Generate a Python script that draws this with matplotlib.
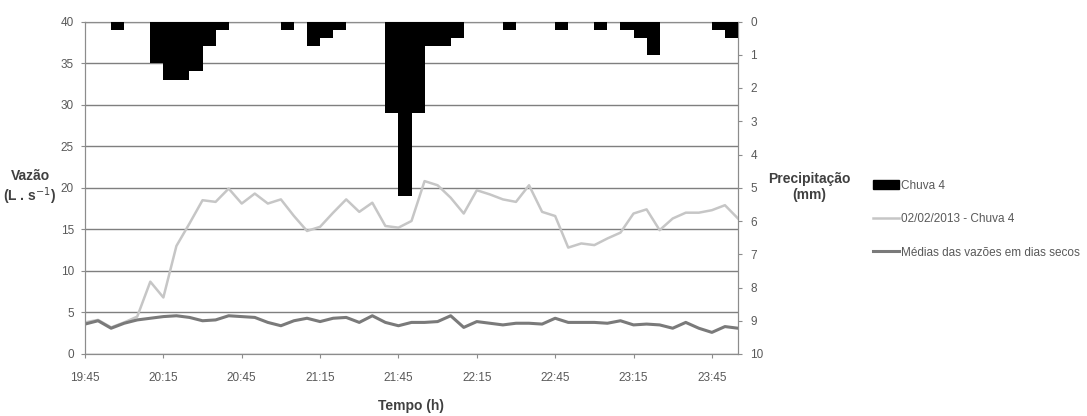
import numpy as np
import matplotlib.pyplot as plt
from matplotlib.patches import Patch
from matplotlib.lines import Line2D

plt.rcParams['font.family'] = ['Liberation Sans Narrow', 'Liberation Sans', 'DejaVu Sans']

# time in minutes after 19:45, 5-min steps
t = np.arange(0, 255, 5)

vazao_chuva = [3.8, 4.1, 3.2, 3.8, 4.5, 8.7, 6.8, 13.0, 15.7, 18.5,
               18.3, 19.9, 18.1, 19.3, 18.1, 18.6, 16.6, 14.8, 15.3, 17.0,
               18.6, 17.1, 18.2, 15.4, 15.2, 16.0, 20.8, 20.3, 18.8, 16.9,
               19.7, 19.2, 18.6, 18.3, 20.3, 17.1, 16.6, 12.8, 13.3, 13.1,
               13.9, 14.6, 16.9, 17.4, 14.9, 16.3, 17.0, 17.0, 17.3, 17.9,
               16.3]

vazao_seco = [3.6, 4.0, 3.1, 3.7, 4.1, 4.3, 4.5, 4.6, 4.4, 4.0,
              4.1, 4.6, 4.5, 4.4, 3.8, 3.4, 4.0, 4.3, 3.9, 4.3,
              4.4, 3.8, 4.6, 3.8, 3.4, 3.8, 3.8, 3.9, 4.6, 3.2,
              3.9, 3.7, 3.5, 3.7, 3.7, 3.6, 4.3, 3.8, 3.8, 3.8,
              3.7, 4.0, 3.5, 3.6, 3.5, 3.1, 3.8, 3.1, 2.6, 3.3,
              3.1]

# rain bars: start minute (after 19:45) and depth in mm
chuva_t = [10, 25, 30, 35, 40, 45, 50, 75, 85, 90, 95,
           115, 120, 125, 130, 135, 140, 160, 180, 195, 205, 210, 215, 240, 245]
chuva_mm = [0.25, 1.25, 1.75, 1.75, 1.5, 0.75, 0.25, 0.25, 0.75, 0.5, 0.25,
            2.75, 5.25, 2.75, 0.75, 0.75, 0.5, 0.25, 0.25, 0.25, 0.25, 0.5, 1.0, 0.25, 0.5]

xticks = np.arange(0, 250, 30)
xlabels = ["19:45", "20:15", "20:45", "21:15", "21:45", "22:15", "22:45", "23:15", "23:45"]

grey_txt = "#595959"
axis_c = "#8c8c8c"

fig = plt.figure(figsize=(10.87, 4.16), dpi=100)
ax = fig.add_axes([85/1087, 62/416, 653/1087, 332.5/416])

ax.plot(t, vazao_chuva, color="#c6c6c6", lw=1.8, zorder=3)
ax.plot(t, vazao_seco, color="#7a7a7a", lw=2.2, zorder=4)

ax.set_xlim(0, 250)
ax.set_ylim(0, 40)
ax.set_yticks(np.arange(0, 41, 5))
ax.set_xticks(xticks)
ax.set_xticklabels(xlabels)
ax.yaxis.grid(True, color="#7f7f7f", lw=1.0)
ax.set_axisbelow(True)
for s in ax.spines.values():
    s.set_color(axis_c)
ax.tick_params(axis="both", colors=axis_c, labelcolor=grey_txt, labelsize=8.5, length=3)
ax.tick_params(axis="x", pad=10)
ax.tick_params(axis="y", pad=5)

ax2 = ax.twinx()
ax2.bar(chuva_t, chuva_mm, width=5, align="edge", color="black", zorder=5)
ax2.set_ylim(10, 0)
ax2.set_yticks(np.arange(0, 11, 1))
ax2.tick_params(axis="y", colors=axis_c, labelcolor=grey_txt, labelsize=8.5, length=3, pad=6)
for s in ax2.spines.values():
    s.set_color(axis_c)

fig.text(30/1087, 1 - 188/416, "Vazão\n(L . s$^{-1}$)", ha="center", va="center",
         fontsize=10, fontweight="bold", color="#404040", linespacing=1.15)
fig.text(809/1087, 1 - 187/416, "Precipitação\n(mm)", ha="center", va="center",
         fontsize=10, fontweight="bold", color="#404040", linespacing=1.15)
fig.text(411/1087, 1 - 406/416, "Tempo (h)", ha="center", va="center",
         fontsize=10, fontweight="bold", color="#404040")

handles = [Patch(facecolor="black", edgecolor="black"),
           Line2D([], [], color="#c6c6c6", lw=1.8),
           Line2D([], [], color="#7a7a7a", lw=2.2)]
labels = ["Chuva 4", "02/02/2013 - Chuva 4", "Médias das vazões em dias secos"]
leg = fig.legend(handles, labels, loc="upper left", bbox_to_anchor=(873/1087, 1 - 180/416),
                 frameon=False, fontsize=8.5, handlelength=2.2, handleheight=0.8,
                 handletextpad=0.2, labelspacing=1.8, borderpad=0, borderaxespad=0)
for txt in leg.get_texts():
    txt.set_color(grey_txt)

fig.savefig("out.png", dpi=100)
